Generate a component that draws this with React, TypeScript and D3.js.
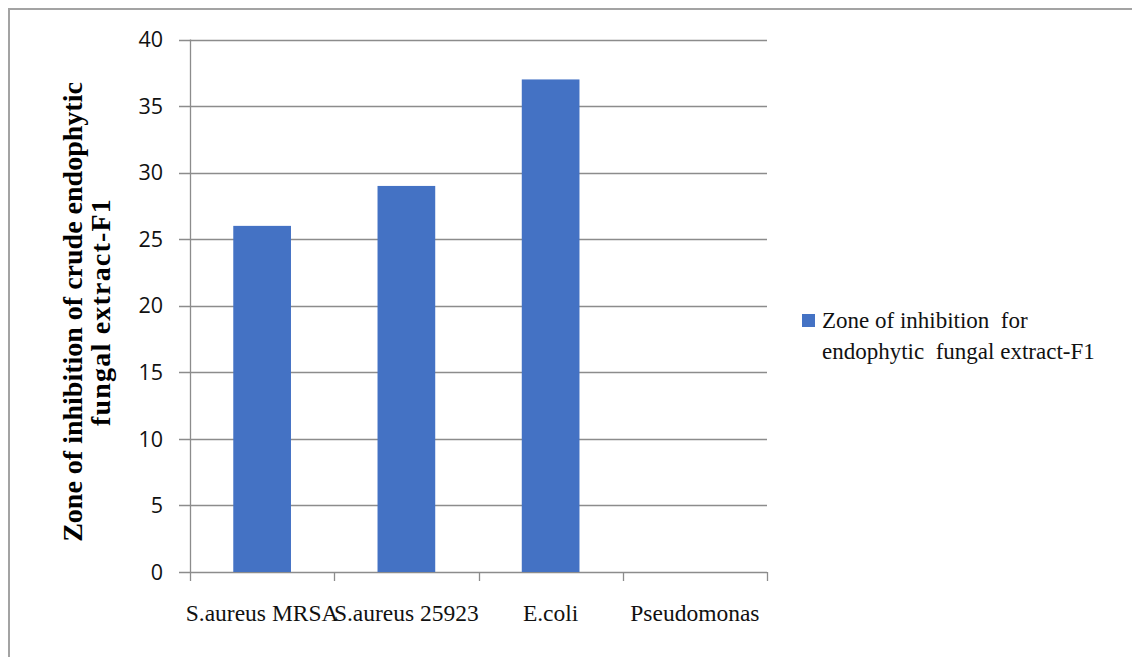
import React from "react";
import * as d3 from "d3";

const categories = ["S.aureus MRSA", "S.aureus 25923", "E.coli", "Pseudomonas"];
const zoneValues = [26, 29, 37, 0];
const yTicks = [0, 5, 10, 15, 20, 25, 30, 35, 40];
const seriesName = ["Zone of inhibition  for", "endophytic  fungal extract-F1"];
const yTitleLines = ["Zone of inhibition of crude endophytic", "fungal extract-F1"];

const W = 1132;
const H = 657;
const plot = { left: 190, right: 767, top: 39.5, bottom: 572 };
const gridColor = "#8c8c8c";
const barColor = "#4472C4";

export default function App() {
  const x = d3
    .scaleBand<string>()
    .domain(categories)
    .range([plot.left, plot.right])
    .paddingInner(0.6)
    .paddingOuter(0.3);
  const band = d3.scaleBand<string>().domain(categories).range([plot.left, plot.right]);
  const y = d3.scaleLinear().domain([0, 40]).range([plot.bottom, plot.top]);

  const titleCenterY = 312;

  return (
    <svg
      width={W}
      height={H}
      style={{ position: "absolute", left: 0, top: 0, background: "#fff" }}
    >
      {/* outer frame */}
      <path d={`M9,${H + 5} V9 H${W + 5}`} fill="none" stroke="#a3a3a3" strokeWidth={2} />

      {/* gridlines with tick stubs */}
      {yTicks.map((t) => (
        <line
          key={t}
          x1={plot.left - 11}
          x2={plot.right}
          y1={Math.round(y(t)) + 0.5}
          y2={Math.round(y(t)) + 0.5}
          stroke={gridColor}
          strokeWidth={1.3}
        />
      ))}
      {/* y axis */}
      <line
        x1={plot.left + 0.5}
        x2={plot.left + 0.5}
        y1={plot.top}
        y2={plot.bottom}
        stroke={gridColor}
        strokeWidth={1.3}
      />
      {/* category tick marks */}
      {[...categories.map((c) => band(c) as number), plot.right].map((px, i) => (
        <line
          key={i}
          x1={Math.round(px) + 0.5}
          x2={Math.round(px) + 0.5}
          y1={plot.bottom}
          y2={plot.bottom + 9}
          stroke={gridColor}
          strokeWidth={1.3}
        />
      ))}

      {/* bars */}
      {categories.map((c, i) => (
        <rect
          key={c}
          x={x(c)}
          y={y(zoneValues[i])}
          width={x.bandwidth()}
          height={y(0) - y(zoneValues[i])}
          fill={barColor}
        />
      ))}

      {/* y tick labels */}
      {yTicks.map((t) => (
        <text
          key={t}
          x={163}
          y={y(t)}
          dy="0.36em"
          textAnchor="end"
          fontFamily="'Open Sans', sans-serif"
          fontSize={21.5}
          fill="#111"
        >
          {t}
        </text>
      ))}

      {/* category labels */}
      {categories.map((c) => (
        <text
          key={c}
          x={(band(c) as number) + band.bandwidth() / 2}
          y={621}
          textAnchor="middle"
          fontFamily="'Liberation Serif', 'Times New Roman', serif"
          fontSize={23.5}
          fill="#111"
        >
          {c}
        </text>
      ))}

      {/* y axis title */}
      {yTitleLines.map((line, i) => (
        <text
          key={line}
          transform={`translate(${82 + i * 28},${titleCenterY}) rotate(-90)`}
          textAnchor="middle"
          fontFamily="'Liberation Serif', 'Times New Roman', serif"
          fontWeight="bold"
          fontSize={28}
          fill="#000"
          letterSpacing={i === 1 ? 1.2 : 0}
        >
          {line}
        </text>
      ))}

      {/* legend */}
      <rect x={802} y={314} width={13} height={13} fill={barColor} />
      {seriesName.map((s, i) => (
        <text
          key={s}
          x={822}
          y={328 + i * 31}
          fontFamily="'Liberation Serif', 'Times New Roman', serif"
          fontSize={23}
          fill="#111"
          style={{ whiteSpace: "pre" }}
        >
          {s}
        </text>
      ))}
    </svg>
  );
}
